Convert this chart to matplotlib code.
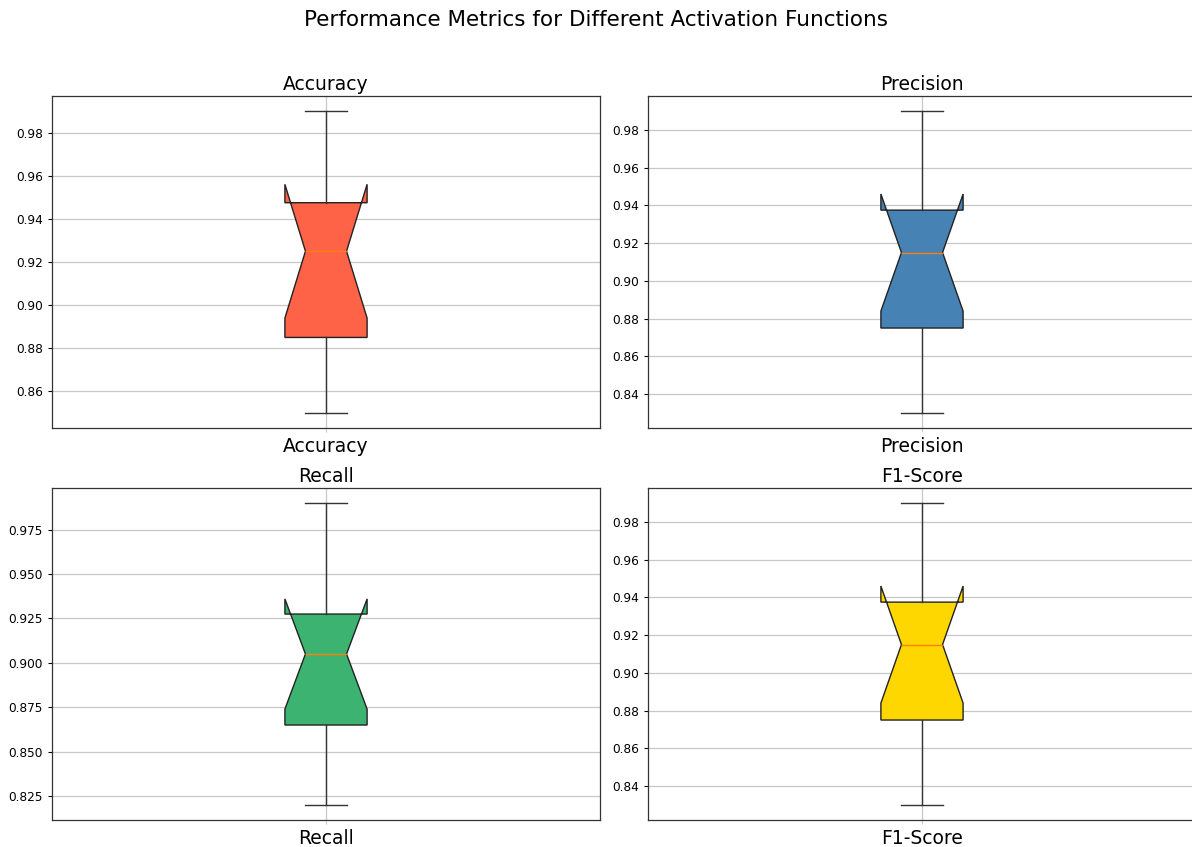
import matplotlib
matplotlib.use("Agg")
import matplotlib.pyplot as plt

metrics = ["Accuracy", "Precision", "Recall", "F1-Score"]
accuracy = [0.85, 0.87, 0.88, 0.90, 0.92, 0.93, 0.94, 0.95, 0.97, 0.99]
precision = [0.83, 0.86, 0.87, 0.89, 0.91, 0.92, 0.93, 0.94, 0.96, 0.99]
recall = [0.82, 0.85, 0.86, 0.88, 0.90, 0.91, 0.92, 0.93, 0.95, 0.99]
f1_score = [0.83, 0.86, 0.87, 0.89, 0.91, 0.92, 0.93, 0.94, 0.96, 0.99]
colors = ["#FF6347", "#4682B4", "#3CB371", "#FFD700"]
series = [accuracy, precision, recall, f1_score]

W, H = 1192, 847
fig = plt.figure(figsize=(W / 100, H / 100), dpi=100)

# axes rectangles in pixels: (left, top, right, bottom)
rects = [(52, 96, 600, 428), (648, 96, 1196, 428),
         (52, 488, 600, 820), (648, 488, 1196, 820)]

for name, vals, col, (l, t, r, b) in zip(metrics, series, colors, rects):
    ax = fig.add_axes([l / W, 1 - b / H, (r - l) / W, (b - t) / H])
    bp = ax.boxplot([vals], notch=True, patch_artist=True, tick_labels=[name],
                    boxprops=dict(linewidth=1.0, edgecolor="#222222"),
                    whiskerprops=dict(linewidth=1.0, color="#333333"),
                    capprops=dict(linewidth=1.0, color="#333333"),
                    medianprops=dict(linewidth=1.0, color="#ff7f0e"))
    for patch in bp["boxes"]:
        patch.set_facecolor(col)
    ax.set_title(name, fontsize=13.5, pad=4)
    ax.grid(True, alpha=0.7, linewidth=0.9)
    ax.set_axisbelow(True)
    ax.tick_params(axis="y", labelsize=8.7, length=3, width=0.8)
    ax.tick_params(axis="x", labelsize=13.5, length=3, width=0.8, colors="#cccccc", labelcolor="black")
    for s in ax.spines.values():
        s.set_linewidth(0.9)
        s.set_color("#333333")

fig.suptitle("Performance Metrics for Different Activation Functions", fontsize=15.5, y=1 - 20 / H, va="center")
fig.savefig("out.png", dpi=100)
